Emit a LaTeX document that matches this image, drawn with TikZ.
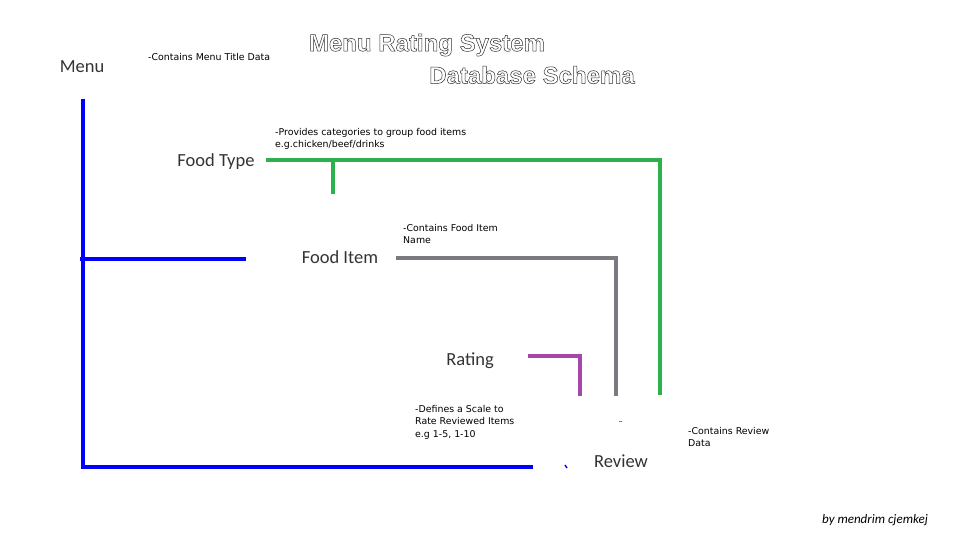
\documentclass[tikz,border=0pt]{standalone}
\usepackage{fontspec}
\setmainfont{Carlito}
\newfontfamily\titlefont{Liberation Sans}
\newfontfamily\notefont{DejaVu Sans}
\definecolor{typegreen}{RGB}{45,178,75}
\definecolor{itemgray}{RGB}{122,122,128}
\definecolor{ratingpurple}{RGB}{165,70,170}
\newcommand{\outlined}[1]{\special{pdf:literal direct 1 Tr 0.5 w}#1\special{pdf:literal direct 0 Tr}}
\begin{document}
\begin{tikzpicture}%
	[x=1pt,
	y=-1pt,
	title/.style={font=\titlefont\bfseries\fontsize{24}{26}\selectfont, text=black!80, inner sep=0pt},
	table/.style={font=\fontsize{18.5}{20}\selectfont, text=black!80, inner sep=0pt},
	note/.style={font=\notefont\fontsize{9.4}{12.5}\selectfont, align=left, anchor=north west, inner sep=0pt},
	menuedge/.style={color=blue, line width=4.5pt},
	typeedge/.style={color=typegreen, line width=4pt},
	itemedge/.style={color=itemgray, line width=4pt},
	ratingedge/.style={color=ratingpurple, line width=4pt}]
%
\useasboundingbox (0,0) rectangle (960,540);
%%
%% Title
%%
\node[title] (title1) at (427,45) {\outlined{Menu Rating System}};
\node[title] (title2) at (532,75) {\outlined{Database Schema}};
%%
%% Tables
%%
\node[table] (menu) at (82,67) {Menu};
\node[table] (foodtype) at (216,162) {Food Type};
\node[table] (fooditem) at (340,257) {Food Item};
\node[table] (rating) at (470,361) {Rating};
\node[table] (review) at (621,461) {Review};
%%
%% Notes
%%
\node[note] (menunote) at (148,53) {-Contains Menu Title Data};
\node[note] (typenote) at (275,128) {-Provides categories to group food items\\e.g.chicken/beef/drinks};
\node[note] (itemnote) at (403,224) {-Contains Food Item\\Name};
\node[note] (ratingnote) at (415,405) {-Defines a Scale to\\Rate Reviewed Items\\e.g 1-5, 1-10};
\node[note] (reviewnote) at (688,427) {-Contains Review\\Data};
\node[font=\itshape\fontsize{13}{15}\selectfont, inner sep=0pt] (sign) at (875,520) {by mendrim cjemkej};
%%
%% Corners of the links
%%
\coordinate (m1) at (83,99);
\coordinate (m2) at (83,467);
\coordinate (m3) at (533,467);
\coordinate (m4) at (80,259);
\coordinate (m5) at (246,259);
\coordinate (t1) at (266,160);
\coordinate (t2) at (660,160);
\coordinate (t3) at (660,395);
\coordinate (t4) at (333,160);
\coordinate (t5) at (333,194);
\coordinate (i1) at (396,258);
\coordinate (i2) at (616,258);
\coordinate (i3) at (616,396);
\coordinate (r1) at (528,356);
\coordinate (r2) at (580,356);
\coordinate (r3) at (580,396);
%%
%% Drawing the links
%%
\draw[menuedge] (m1) -- (m2) -- (m3);
\draw[menuedge] (m4) -- (m5);
\draw[typeedge] (t1) -- (t2) -- (t3);
\draw[typeedge] (t4) -- (t5);
\draw[itemedge] (i1) -- (i2) -- (i3);
\draw[ratingedge] (r1) -- (r2) -- (r3);
%%
%% small marks
%%
\coordinate (b1) at (565,465);
\coordinate (b2) at (567,468);
\coordinate (g1) at (619,421);
\coordinate (g2) at (622,421);
\draw[color=blue, line width=1.5pt] (b1) -- (b2);
\draw[typeedge, line width=1pt] (g1) -- (g2);
\end{tikzpicture}
\end{document}
